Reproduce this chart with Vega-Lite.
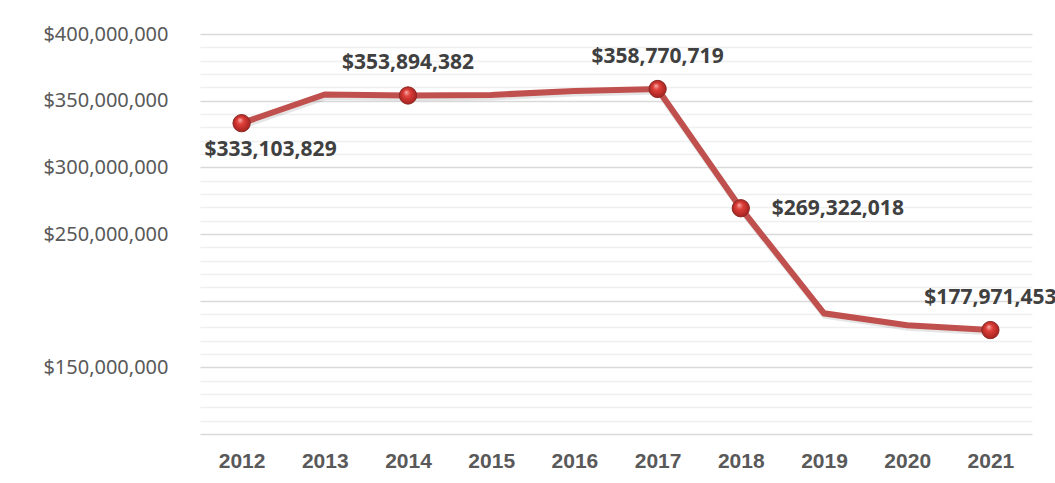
{
  "$schema": "https://vega.github.io/schema/vega-lite/v6.json",
  "autosize": {"type": "none"},
  "padding": {"left": 200, "top": 34, "right": 23, "bottom": 49},
  "width": 832,
  "height": 400,
  "background": "white",
  "config": {"view": {"stroke": null}},
  "data": {"values": [
    {"year": "2012", "value": 333103829, "marker": true},
    {"year": "2013", "value": 354600000, "marker": false},
    {"year": "2014", "value": 353894382, "marker": true},
    {"year": "2015", "value": 354300000, "marker": false},
    {"year": "2016", "value": 357300000, "marker": false},
    {"year": "2017", "value": 358770719, "marker": true},
    {"year": "2018", "value": 269322018, "marker": true},
    {"year": "2019", "value": 190500000, "marker": false},
    {"year": "2020", "value": 181600000, "marker": false},
    {"year": "2021", "value": 177971453, "marker": true}
  ]},
  "encoding": {
    "x": {"field": "year", "type": "ordinal", "sort": null,
      "axis": {"title": null, "labelAngle": 0, "domain": false, "ticks": false,
        "labelFont": "Liberation Sans", "labelFontWeight": "bold", "labelFontSize": 21,
        "labelColor": "#595959", "labelPadding": 16}},
    "y": {"field": "value", "type": "quantitative",
      "scale": {"domain": [100000000, 400000000], "nice": false, "zero": false},
      "axis": {"title": null, "domain": false, "ticks": false,
        "values": [100000000,110000000,120000000,130000000,140000000,150000000,160000000,170000000,180000000,190000000,200000000,210000000,220000000,230000000,240000000,250000000,260000000,270000000,280000000,290000000,300000000,310000000,320000000,330000000,340000000,350000000,360000000,370000000,380000000,390000000,400000000],
        "format": "$,.0f",
        "labelExpr": "(datum.value % 50000000 === 0 && datum.value != 200000000 && datum.value != 100000000) ? datum.label : ''",
        "labelFont": "Noto Sans", "labelFontSize": 20, "labelColor": "#595959", "labelPadding": 32,
        "grid": true,
        "gridColor": {"condition": {"test": "datum.value % 50000000 === 0", "value": "#d9d9d9"}, "value": "#efefef"},
        "gridWidth": 1.5}}
  },
  "layer": [
    {"mark": {"type": "line", "color": "#000000", "opacity": 0.1, "strokeWidth": 7, "xOffset": 1, "yOffset": 2, "strokeJoin": "miter"}},
    {"mark": {"type": "line", "color": "#c0504d", "strokeWidth": 6, "strokeJoin": "miter"}},
    {"transform": [{"filter": "datum.marker"}],
      "mark": {"type": "point", "filled": true, "size": 300, "opacity": 1,
        "stroke": "#8c2a27", "strokeWidth": 1,
        "fill": {"gradient": "radial", "x1": 0.4, "y1": 0.3, "r1": 0, "x2": 0.5, "y2": 0.5, "r2": 0.55,
          "stops": [{"offset": 0, "color": "#f8b4b0"}, {"offset": 0.35, "color": "#e0403a"}, {"offset": 1, "color": "#9e1f1c"}]}}},
    {"transform": [{"filter": "datum.year == '2014' || datum.year == '2017' || datum.year == '2021'"}],
      "mark": {"type": "text", "font": "Noto Sans", "fontWeight": "bold", "fontSize": 21, "color": "#404040", "dy": -32, "dx": 0},
      "encoding": {"text": {"field": "value", "type": "quantitative", "format": "$,.0f"}}},
    {"transform": [{"filter": "datum.year == '2012'"}],
      "mark": {"type": "text", "font": "Noto Sans", "fontWeight": "bold", "fontSize": 21, "color": "#404040", "dy": 27, "dx": 29},
      "encoding": {"text": {"field": "value", "type": "quantitative", "format": "$,.0f"}}},
    {"transform": [{"filter": "datum.year == '2018'"}],
      "mark": {"type": "text", "font": "Noto Sans", "fontWeight": "bold", "fontSize": 21, "color": "#404040", "dy": 1, "dx": 31, "align": "left"},
      "encoding": {"text": {"field": "value", "type": "quantitative", "format": "$,.0f"}}}
  ]
}
